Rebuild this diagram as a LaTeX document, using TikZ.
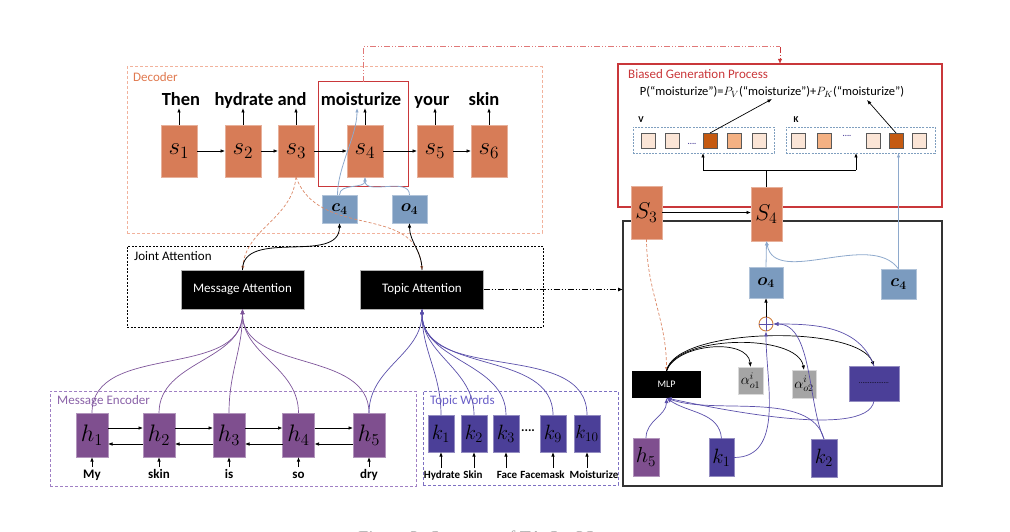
\documentclass[tikz,border=0pt]{standalone}
\usepackage{fontspec}
\setmainfont{Carlito}
\newfontfamily\capfont{Liberation Serif}
\usetikzlibrary{arrows.meta,calc}
\newcommand\mbig[2][1.15]{\scalebox{#1}{$#2$}}
\definecolor{sbox}{HTML}{D77C57}
\definecolor{decb}{HTML}{F2B29C}
\definecolor{decl}{HTML}{E0794F}
\definecolor{hbox}{HTML}{7F4F8F}
\definecolor{kbox}{HTML}{4B3F98}
\definecolor{meb}{HTML}{A07FC4}
\definecolor{mel}{HTML}{8A62A8}
\definecolor{twb}{HTML}{7D70C2}
\definecolor{twl}{HTML}{6A5FC8}
\definecolor{cbox}{HTML}{7B9BBF}
\definecolor{blin}{HTML}{8EA9CC}
\definecolor{redb}{HTML}{C9373A}
\definecolor{redd}{HTML}{E07878}
\definecolor{abox}{HTML}{A5A5A5}
\definecolor{pale}{HTML}{FBE5D6}
\definecolor{lorange}{HTML}{F4B183}
\definecolor{dorange}{HTML}{C55A11}
\definecolor{vkb}{HTML}{7F9FBF}
\definecolor{hlin}{HTML}{7E559A}
\definecolor{klin}{HTML}{5A4FAA}
\definecolor{oplc}{HTML}{D08040}
\begin{document}
\begin{tikzpicture}[x=1pt,y=-1pt,font=\fontsize{13}{15}\selectfont,
  arr/.style={-{Latex[length=4.5pt,width=3.6pt]},line width=0.8pt},
  grp/.style={inner sep=0pt,outer sep=0pt,line width=1pt},
  lab/.style={anchor=north west,inner sep=0pt,font=\fontsize{13}{15}\selectfont},
  sn/.style={fill=sbox,draw=sbox!60!white,line width=0.6pt,inner sep=0pt,outer sep=0pt,minimum width=36pt,minimum height=52pt,font=\fontsize{20.74}{24}\selectfont},
  hn/.style={fill=hbox,draw=hbox!60!white,line width=0.6pt,inner sep=0pt,outer sep=0pt,minimum width=32pt,minimum height=44pt,font=\fontsize{20.74}{22}\selectfont},
  kn/.style={fill=kbox,draw=kbox!60!white,line width=0.6pt,inner sep=0pt,outer sep=0pt,minimum width=26pt,minimum height=37pt,font=\fontsize{17.28}{21}\selectfont},
  cn/.style={fill=cbox,draw=cbox!60!white,line width=0.6pt,inner sep=0pt,outer sep=0pt,minimum width=35pt,minimum height=28pt,font=\fontsize{17.28}{18}\selectfont\boldmath},
  att/.style={fill=black,text=white,draw=gray!60,line width=0.5pt,inner sep=0pt,outer sep=0pt,minimum width=123pt,minimum height=39pt,font=\fontsize{13}{15}\selectfont},
  dword/.style={anchor=south,inner sep=2pt,text depth=0pt,font=\fontsize{18.5}{20}\selectfont\bfseries},
  eword/.style={anchor=north,inner sep=2pt,text height=9pt,font=\fontsize{13}{15}\selectfont\bfseries},
  tword/.style={anchor=north,inner sep=2pt,text height=8pt,font=\fontsize{11}{13}\selectfont\bfseries},
  sq/.style={draw=gray!70!black,line width=0.8pt,inner sep=0pt,outer sep=0pt,minimum width=14pt,minimum height=15pt},
  sdash/.style={draw=sbox!90!white,dash pattern=on 3pt off 2pt,line width=0.7pt,-{Latex[length=4pt,width=3.4pt]}},
  barr/.style={draw=blin,line width=0.8pt,-{Latex[length=4.5pt,width=3.6pt]}},
  harr/.style={draw=hlin,line width=0.7pt,-{Latex[length=5pt,width=4pt]}},
  karr/.style={draw=klin,line width=0.7pt,-{Latex[length=5pt,width=4pt]}}
]
\useasboundingbox (0,0) rectangle (1010,532);

% ---------- group frames ----------
\node[grp,draw=decb,dash pattern=on 3pt off 2pt,minimum width=415pt,minimum height=166pt] (dec) at (334.5,150) {};
\node[lab,text=decl] (decl) at ([xshift=6pt,yshift=-5pt]dec.north west) {Decoder};
\node[grp,draw=black,dash pattern=on 2pt off 1.5pt,line width=0.8pt,minimum width=416pt,minimum height=81pt] (ja) at (335,286.5) {};
\node[lab] (jal) at ([xshift=7pt,yshift=-5pt]ja.north west) {Joint Attention};
\node[grp,draw=meb,dash pattern=on 3pt off 2pt,minimum width=366pt,minimum height=95pt] (me) at (233,438.5) {};
\node[lab,text=mel] (mel) at ([xshift=7pt,yshift=-4pt]me.north west) {Message Encoder};
\node[grp,draw=twb,dash pattern=on 3pt off 2pt,minimum width=195pt,minimum height=94pt] (tw) at (520.5,438) {};
\node[lab,text=twl] (twl) at ([xshift=7pt,yshift=-4pt]tw.north west) {Topic Words};
\node[grp,draw=redb,line width=1.1pt,minimum width=324pt,minimum height=143pt] (bgp) at (780,135.5) {};
\node[lab,text=redb] (bgpl) at ([xshift=10pt,yshift=-5pt]bgp.north west) {Biased Generation Process};
\node[grp,draw=gray!40!black,line width=1.3pt,minimum width=319pt,minimum height=265pt] (panel) at (782.5,353.5) {};

% ---------- decoder ----------
\node[sn] (s1) at (179,151) {\mbig[1.2]{s_1}};
\node[sn] (s2) at (243,151) {\mbig[1.2]{s_2}};
\node[sn] (s3) at (296,151) {\mbig[1.2]{s_3}};
\node[sn] (s4) at (365,151) {\mbig[1.2]{s_4}};
\node[sn] (s5) at (435,151) {\mbig[1.2]{s_5}};
\node[sn] (s6) at (489,151) {\mbig[1.2]{s_6}};
\node[dword] (w1) at (181,108) {Then};
\node[dword] (w2) at (244,108) {hydrate};
\node[dword] (w3) at (292,108) {and};
\node[dword] (w4) at (361,108) {moisturize};
\node[dword] (w5) at (432,108) {your};
\node[dword] (w6) at (484,108) {skin};
\node[grp,draw=redb,line width=1pt,minimum width=90pt,minimum height=105pt] (rbox) at (363,134.5) {};
\foreach \a/\b in {s1/s2,s2/s3,s3/s4,s4/s5,s5/s6}
  \draw[arr,line width=0.7pt] (\a.east) -- (\b.west);
\foreach \a/\b in {s1/w1,s2/w2,s3/w3,s4/w4,s5/w5,s6/w6}
  \draw[arr] (\a.north) -- (\a.north |- \b.south);

\node[cn] (c4) at (339.5,209) {$c_4$};
\node[cn] (o4) at (409.5,209) {$o_4$};
\draw[barr] (c4.north) to[out=90,in=-90] (s4.south);
\draw[barr] (o4.north) to[out=90,in=-90] (s4.south);
\draw[barr] ([xshift=-2pt]c4.north) to[out=90,in=-90,looseness=0.8] ([xshift=-4pt]w4.south);

% ---------- joint attention ----------
\node[att] (ma) at (242.5,289.5) {Message Attention};
\node[att] (ta) at (422,289.5) {Topic Attention};
\draw[sdash] (s3.south) to[out=-95,in=85] (ma.north);
\draw[sdash] (s3.south) to[out=-70,in=95,looseness=1.1] (ta.north);
\draw[arr,line width=0.8pt] (ma.north) to[out=90,in=-90] (c4.south);
\draw[arr,line width=0.8pt] (ta.north) to[out=90,in=-90] (o4.south);

% ---------- message encoder ----------
\node[hn] (h1) at (92,435) {\mbig{h_1}};
\node[hn] (h2) at (159,435) {\mbig{h_2}};
\node[hn] (h3) at (229,435) {\mbig{h_3}};
\node[hn] (h4) at (298.5,435) {\mbig{h_4}};
\node[hn] (h5) at (369,435) {\mbig{h_5}};
\node[eword] (e1) at (92,467) {My};
\node[eword] (e2) at (159,467) {skin};
\node[eword] (e3) at (229,467) {is};
\node[eword] (e4) at (298.5,467) {so};
\node[eword] (e5) at (369,467) {dry};
\foreach \a/\b in {h1/h2,h2/h3,h3/h4,h4/h5}{
  \draw[arr,line width=0.7pt] ([yshift=7pt]\a.east) -- ([yshift=7pt]\b.west);
  \draw[arr,line width=0.7pt] ([yshift=-9pt]\b.west) -- ([yshift=-9pt]\a.east);}
\foreach \a/\b in {h1/e1,h2/e2,h3/e3,h4/e4,h5/e5}
  \draw[arr] (\b.north) -- (\a.south);

% ---------- topic words ----------
\node[kn] (k1) at (441,433.5) {\mbig[1.2]{k_1}};
\node[kn] (k2) at (474,433.5) {\mbig[1.2]{k_2}};
\node[kn] (k3) at (506,433.5) {\mbig[1.2]{k_3}};
\node[inner sep=0pt,font=\fontsize{13}{15}\selectfont\bfseries] (kd) at (528,431) {....};
\node[kn] (k9) at (553,433.5) {\mbig[1.2]{k_9}};
\node[kn] (k10) at (587,433.5) {\mbig[1.1]{k_{10}}};
\node[tword] (t1) at (442,468) {Hydrate};
\node[tword] (t2) at (473,468) {Skin};
\node[tword] (t3) at (507,468) {Face};
\node[tword] (t4) at (542.5,468) {Facemask};
\node[tword] (t5) at (594,468) {Moisturize};
\draw[arr] (k1.south |- t1.north) -- (k1.south);
\draw[arr] (k2.south |- t2.north) -- (k2.south);
\draw[arr] (k3.south |- t3.north) -- (k3.south);
\draw[arr] (k9.south |- t4.north) -- (k9.south);
\draw[arr] (k10.south |- t5.north) -- (k10.south);

% encoder / topic words to attention
\foreach \h in {h1,h2,h3,h4,h5}
  \draw[harr] (\h.north) to[out=90,in=-90] (ma.south);
\draw[karr] (h5.north) to[out=90,in=-90] (ta.south);
\foreach \k in {k1,k2,k3,k9,k10}
  \draw[karr] (\k.north) to[out=90,in=-90] (ta.south);

% dash-dot links
\coordinate (top1) at (363,47);
\coordinate (top2) at (780,47);
\draw[draw=redd,line width=1pt,dash pattern=on 6pt off 2pt on 1pt off 2pt on 1pt off 2pt] (rbox.north) -- (top1) -- (top2);
\draw[draw=redd,line width=1pt,dash pattern=on 6pt off 2pt on 1pt off 2pt on 1pt off 2pt,-{Latex[length=5pt,width=4.5pt]},redb] (top2) -- (top2 |- bgp.north);
\draw[line width=0.8pt,dash pattern=on 6pt off 2pt on 1pt off 2pt on 1pt off 2pt,-{Latex[length=5pt,width=4pt]}] (ta.east) -- (ta.east -| panel.west);

% ---------- biased generation ----------
\node[font=\fontsize{12.5}{14}\selectfont] (form) at (772,92) {P(“moisturize”)=$P_V$(“moisturize”)+$P_K$(“moisturize”)};
\node[inner sep=0pt,font=\fontsize{9}{10}\selectfont\bfseries] (vl) at (641,120) {V};
\node[inner sep=0pt,font=\fontsize{9}{10}\selectfont\bfseries] (kl) at (796,120) {K};
\node[grp,draw=vkb,line width=0.8pt,dash pattern=on 2pt off 1.2pt,minimum width=141pt,minimum height=26pt] (vb) at (703.5,140) {};
\node[grp,draw=vkb,line width=0.8pt,dash pattern=on 2pt off 1.2pt,minimum width=149pt,minimum height=26pt] (kb) at (860.5,140) {};
\node[sq,fill=pale] (v1) at (648,140.5) {};
\node[sq,fill=pale] (v2) at (672,140.5) {};
\node[inner sep=0pt,font=\fontsize{8}{9}\selectfont\bfseries,text=kbox] (vd) at (692,144) {....};
\node[sq,fill=dorange] (v3) at (710,140.5) {};
\node[sq,fill=lorange] (v4) at (734,140.5) {};
\node[sq,fill=pale] (v5) at (759,140.5) {};
\node[sq,fill=pale] (q1) at (798,140.5) {};
\node[sq,fill=lorange] (q2) at (824,140.5) {};
\node[inner sep=0pt,font=\fontsize{8}{9}\selectfont\bfseries,text=kbox] (qd) at (847,136) {....};
\node[sq,fill=pale] (q3) at (873,140.5) {};
\node[sq,fill=dorange] (q4) at (896,140.5) {};
\node[sq,fill=pale] (q5) at (919,140.5) {};
\coordinate (pv) at (772,99);
\coordinate (pk) at (867,100);
\draw[arr,line width=0.7pt] (v3.north) -- (pv);
\draw[arr,line width=0.7pt] (q4.north) -- (pk);

% ---------- right panel ----------
\node[sn,minimum width=31pt,minimum height=53pt] (rs3) at (646.5,212.5) {\mbig[1.1]{S_3}};
\node[sn,minimum width=31pt,minimum height=54pt] (rs4) at (766.5,214) {\mbig[1.1]{S_4}};
\node[cn,minimum width=34pt,minimum height=31pt] (ro4) at (766,282.5) {$o_4$};
\node[cn,minimum width=35pt,minimum height=30pt] (rc4) at (898.5,284) {$c_4$};
\coordinate (jv) at (703,170);
\coordinate (jk) at (856,170);
\draw[line width=0.8pt] (rs4.north) -- (rs4.north |- jv);
\draw[line width=0.8pt] (jv) -- (jk);
\draw[arr] (jv) -- (jv |- vb.south);
\draw[arr] (jk) -- (jk |- kb.south);
\draw[barr] (rc4.north) -- (rc4.north |- kb.south);
\draw[arr] (rs3.east) -- (rs3.east -| rs4.west);
\draw[barr] (ro4.north) -- (rs4.south);
\draw[barr] (rc4.north) to[out=125,in=-80,looseness=0.9] (rs4.south);

\node[circle,draw=oplc,line width=0.9pt,minimum size=14pt,inner sep=0pt] (plus) at (766,324) {};
\draw[line width=0.7pt,draw=klin] (plus.north) -- (plus.south) (plus.east) -- (plus.west);
\draw[arr] (plus.north) -- (ro4.south);

\node[fill=black,text=white,inner sep=0pt,outer sep=0pt,minimum width=69pt,minimum height=27pt,font=\fontsize{10}{11}\selectfont] (mlp) at (666.5,384.5) {MLP};
\node[fill=abox,draw=gray!30,inner sep=0pt,outer sep=0pt,minimum width=25pt,minimum height=27pt,font=\fontsize{14.4}{15}\selectfont] (a1) at (750.5,380.5) {$\alpha^i_{o1}$};
\node[fill=abox,draw=gray!30,inner sep=0pt,outer sep=0pt,minimum width=24pt,minimum height=28pt,font=\fontsize{14.4}{15}\selectfont] (a2) at (804,384) {$\alpha^i_{o2}$};
\node[fill=kbox,draw=kbox!60!white,inner sep=0pt,outer sep=0pt,minimum width=50pt,minimum height=35pt,font=\fontsize{7}{8}\selectfont] (dbox) at (874,383.5) {.................};
\node[hn,minimum width=26pt,minimum height=38pt] (rh5) at (646,457) {\mbig[1.05]{h_5}};
\node[kn,minimum width=25pt,minimum height=38pt] (rk1) at (721.5,457.5) {\mbig[1.2]{k_1}};
\node[kn,minimum width=26pt,minimum height=38pt] (rk2) at (824,458) {\mbig[1.2]{k_2}};

\draw[sdash] (rs3.south) to[out=-90,in=90] (mlp.north);
\draw[arr,line width=0.7pt] (mlp.north) to[out=70,in=95,looseness=0.9] (a1.north);
\draw[arr,line width=0.7pt] (mlp.north) to[out=75,in=100,looseness=0.7] (a2.north);
\draw[arr,line width=0.7pt] (mlp.north) to[out=80,in=110,looseness=0.55] (dbox.north);
\draw[karr] (rh5.north) to[out=90,in=-90] (mlp.south);
\draw[karr] (rk1.north) to[out=95,in=-35] (mlp.south);
\draw[karr] (rk2.north) to[out=105,in=-20,looseness=0.8] (mlp.south);
\draw[karr] (dbox.south) to[out=-100,in=-12,looseness=0.5] (mlp.south);
\draw[karr] (rk1.east) to[out=0,in=-90] (plus.south);
\draw[karr] (rk2.north) to[out=115,in=0,looseness=0.8] (plus.east);
\draw[karr] (dbox.north) to[out=110,in=0] (plus.east);

% caption (cut off at the bottom edge)
\node[anchor=base,inner sep=0pt,text=gray!70,font=\capfont\fontsize{18}{20}\selectfont] (cap) at (485,543) {Figure 2: Structure of TA-Seq2Seq};
\end{tikzpicture}
\end{document}
